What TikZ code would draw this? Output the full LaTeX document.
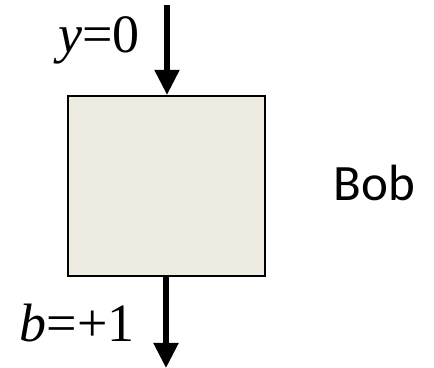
\documentclass[tikz,border=0pt]{standalone}
\usepackage{fontspec}
\setmainfont{Liberation Serif}
\newfontfamily\bobfont{Carlito}
\usetikzlibrary{positioning, arrows.meta}

\begin{document}
\begin{tikzpicture}[x=0.5pt, y=-0.5pt,
    party/.style={draw, line width=1.1pt, fill={rgb,255:red,238;green,235;blue,224}, minimum width=98.5pt, minimum height=90pt, inner sep=0pt},
    wire/.style={line width=2.6pt, -{Triangle[width=12pt, length=12.5pt]}},
    lbl/.style={font=\fontsize{27}{29}\selectfont, inner sep=0pt}]
    \useasboundingbox (0,0) rectangle (434,368);
    \node[party] (box) at (166.5,186) {};
    \coordinate (in) at (167,5);
    \coordinate (out) at (166,368);
    \node[lbl, anchor=base east] (y) at (140,53) {\textit{y}=0};
    \node[lbl, anchor=base east] (b) at (135,342) {\textit{b}=+1};
    \node[font=\bobfont\fontsize{25.5}{27}\selectfont, inner sep=0pt, anchor=base west] (bob) at (333,201) {Bob};

    \draw[wire] (in) -- (box.north -| in);
    \draw[wire] (box.south -| out) -- (out);
\end{tikzpicture}
\end{document}
